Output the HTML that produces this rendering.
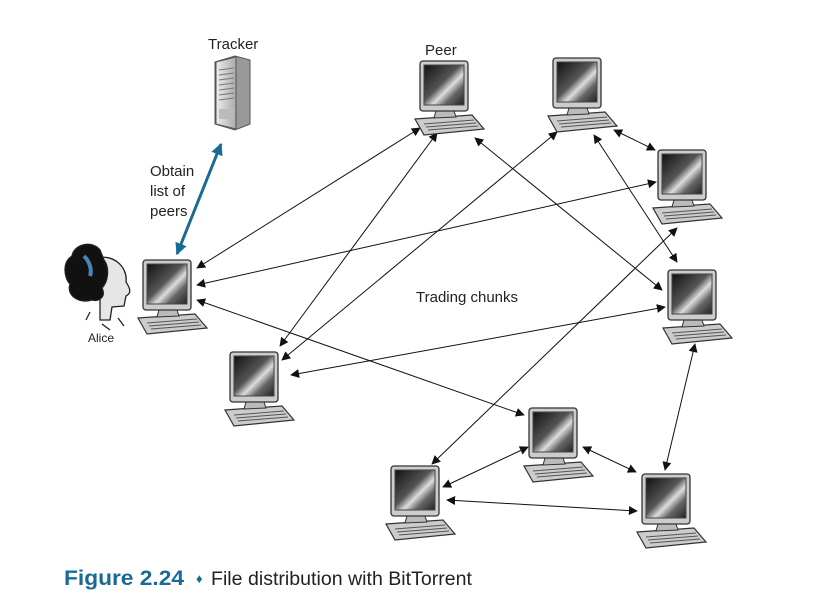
<!DOCTYPE html>
<html><head><meta charset="utf-8"><style>
html,body{margin:0;padding:0;background:#fff;width:830px;height:612px;overflow:hidden}
svg{display:block}
text{font-family:"Liberation Sans",sans-serif}
</style></head><body>
<svg width="830" height="612" viewBox="0 0 830 612" xmlns="http://www.w3.org/2000/svg">
<defs>
<linearGradient id="scr" x1="0" y1="0" x2="1" y2="1">
<stop offset="0" stop-color="#111"/><stop offset="0.45" stop-color="#555"/><stop offset="0.6" stop-color="#ddd"/><stop offset="0.75" stop-color="#666"/><stop offset="1" stop-color="#222"/>
</linearGradient>
<linearGradient id="srv" x1="0" y1="0" x2="1" y2="0">
<stop offset="0" stop-color="#eee"/><stop offset="1" stop-color="#aaa"/>
</linearGradient>
<marker id="ah" viewBox="0 0 10 10" refX="9" refY="5" markerWidth="9" markerHeight="9" markerUnits="userSpaceOnUse" orient="auto-start-reverse">
<path d="M0,0 L10,5 L0,10 z" fill="#111"/></marker>
<marker id="bh" viewBox="0 0 10 10" refX="9" refY="5" markerWidth="4" markerHeight="4" orient="auto-start-reverse">
<path d="M0,0 L10,5 L0,10 z" fill="#1a6a96"/></marker>
<g id="pc">
<path d="M-5,58 L52,54 L64,68 L4,74 Z" fill="#ccc" stroke="#333" stroke-width="1.2"/>
<path d="M4,63 L54,59 M6,66 L56,62 M8,69 L58,65" stroke="#555" stroke-width="1"/>
<path d="M16,50 L34,50 L36,56 L14,57 Z" fill="#bbb" stroke="#333"/>
<rect x="0" y="0" width="48" height="50" rx="3" fill="#ccc" stroke="#333" stroke-width="1.3"/>
<rect x="4" y="4" width="40" height="40" fill="url(#scr)" stroke="#444"/>
</g>
</defs>

<text x="208" y="49" font-size="15" fill="#222">Tracker</text>
<text x="425" y="55" font-size="15" fill="#222">Peer</text>

<!-- tracker -->
<path d="M215,62 L235,56 L250,60 L250,124 L235,130 L215,124 Z" fill="#999" stroke="#555"/>
<path d="M216,62 L236,57 L236,129 L216,124 Z" fill="url(#srv)" stroke="#555"/>
<g stroke="#777" stroke-width="1">
<line x1="219" y1="70" x2="234" y2="68"/><line x1="219" y1="75" x2="234" y2="73"/><line x1="219" y1="80" x2="234" y2="78"/><line x1="219" y1="85" x2="234" y2="83"/><line x1="219" y1="90" x2="234" y2="88"/><line x1="219" y1="95" x2="234" y2="93"/><line x1="219" y1="100" x2="234" y2="98"/></g>
<rect x="219" y="109" width="15" height="10" fill="#bbb"/>

<line x1="221" y1="144" x2="177" y2="254" stroke="#1a6a96" stroke-width="3" marker-start="url(#bh)" marker-end="url(#bh)"/>
<text font-size="15" fill="#222"><tspan x="150" y="176">Obtain</tspan><tspan x="150" y="196">list of</tspan><tspan x="150" y="216">peers</tspan></text>

<!-- Alice -->
<g stroke="#222" stroke-width="1.3">
<path d="M98,258 C112,254 128,266 126,282 C130,288 132,293 126,296 L124,306 L112,307 L110,320 L100,320 L100,300 Z" fill="#e6e6e6"/>
<path d="M100,250 C92,240 74,244 72,256 C62,262 64,278 70,284 C66,296 80,304 92,300 C100,302 106,296 102,288 C108,282 110,268 104,260 Z" fill="#111"/>
<path d="M86,320 L90,312 M102,324 L110,330 M118,318 L124,326" fill="none"/>
</g>
<path d="M84,256 C90,262 92,270 90,276" stroke="#4a84b8" stroke-width="4" fill="none"/>
<text x="88" y="342" font-size="12" fill="#222">Alice</text>

<text x="416" y="302" font-size="15" fill="#222">Trading chunks</text>

<g stroke="#111" stroke-width="1" fill="none" marker-start="url(#ah)" marker-end="url(#ah)">
<line x1="197" y1="268" x2="420" y2="128"/>
<line x1="197" y1="285" x2="656" y2="182"/>
<line x1="197" y1="300" x2="524" y2="415"/>
<line x1="437" y1="133" x2="280" y2="346"/>
<line x1="475" y1="138" x2="662" y2="290"/>
<line x1="557" y1="132" x2="282" y2="360"/>
<line x1="614" y1="130" x2="655" y2="150"/>
<line x1="594" y1="135" x2="677" y2="262"/>
<line x1="665" y1="307" x2="291" y2="375"/>
<line x1="695" y1="344" x2="665" y2="470"/>
<line x1="677" y1="228" x2="432" y2="464"/>
<line x1="528" y1="447" x2="443" y2="487"/>
<line x1="583" y1="447" x2="636" y2="472"/>
<line x1="447" y1="500" x2="637" y2="511"/>
</g>

<use href="#pc" x="143" y="260"/>
<use href="#pc" x="420" y="61"/>
<use href="#pc" x="553" y="58"/>
<use href="#pc" x="658" y="150"/>
<use href="#pc" x="668" y="270"/>
<use href="#pc" x="230" y="352"/>
<use href="#pc" x="529" y="408"/>
<use href="#pc" x="391" y="466"/>
<use href="#pc" x="642" y="474"/>

<text x="64" y="585" font-size="21" font-weight="bold" fill="#1a6a96" textLength="120" lengthAdjust="spacingAndGlyphs">Figure 2.24</text>
<text x="196" y="583" font-size="13" fill="#1a6a96">♦</text>
<text x="211" y="585" font-size="19" fill="#222" textLength="261" lengthAdjust="spacingAndGlyphs">File distribution with BitTorrent</text>
</svg>
</body></html>
